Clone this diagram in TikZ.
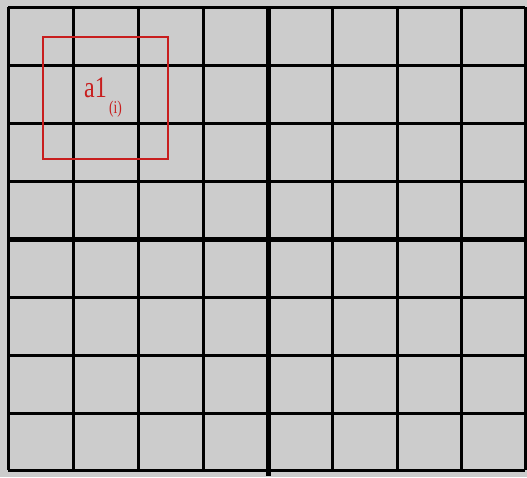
\documentclass[tikz,border=0pt]{standalone}
\usepackage{fontspec}
\usepackage{graphicx}
\setmainfont{Liberation Serif}
\definecolor{bggray}{RGB}{204,204,204}
\definecolor{boxred}{RGB}{200,30,30}
\tikzset{
  gridline/.style={line width=3pt, black},
  midline/.style={line width=5pt, black},
  redbox/.style={draw=boxred, line width=1.6pt},
  redtext/.style={text=boxred, inner sep=0pt, font=\fontsize{30}{30}\selectfont},
  redsub/.style={text=boxred, inner sep=0pt, font=\fontsize{18}{18}\selectfont}
}
\begin{document}
\begin{tikzpicture}[x=1pt, y=-1pt]
\fill[bggray] (0,0) rectangle (527,477);
\useasboundingbox (0,0) rectangle (527,477);
% vertical lines
\foreach \x in {8,73,138,203,332,397,461,525}
  \draw[gridline] (\x,7) -- (\x,470);
\draw[midline] (268,7) -- (268,476);
% horizontal lines
\foreach \y in {7,65,123,181,297,355,413,470}
  \draw[gridline] (8,\y) -- (525,\y);
\draw[midline] (8,239) -- (525,239);
% red box
\draw[redbox] (43,37) rectangle (168,159);
\node[redtext, anchor=base west] (lbl) at (84,97) {\scalebox{0.8}[1]{a1}};
\node[redsub, anchor=base west] (sub) at (109,113) {\scalebox{0.75}[1]{(i)}};
\end{tikzpicture}
\end{document}
